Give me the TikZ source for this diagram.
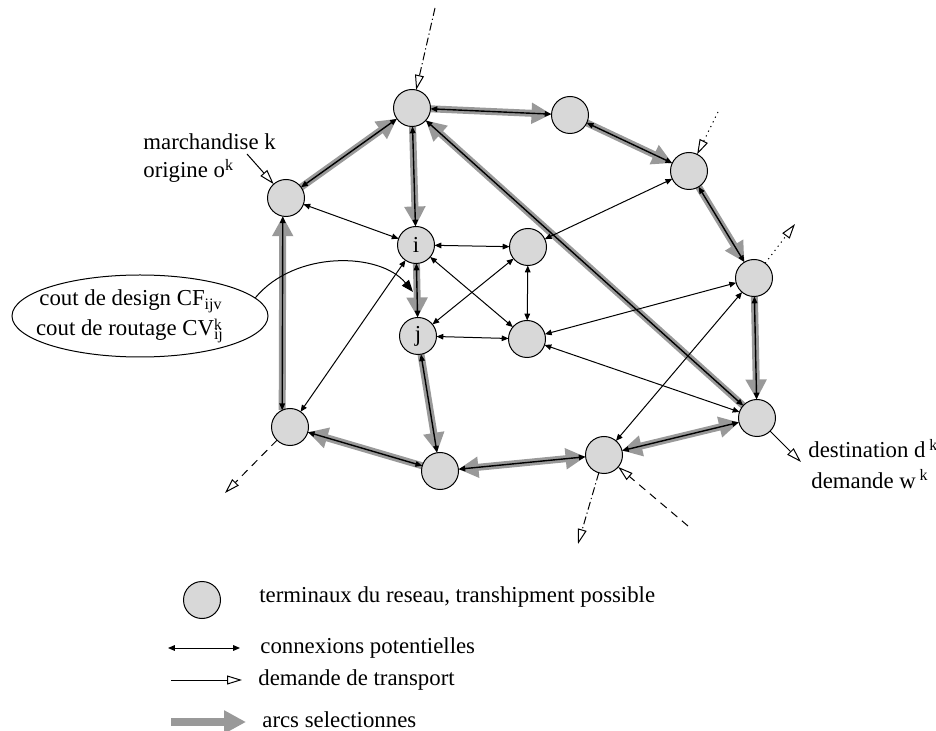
\documentclass[tikz,border=0pt]{standalone}
\usepackage{fontspec}
\setmainfont{Liberation Serif}
\usetikzlibrary{arrows.meta,shapes.geometric,backgrounds}
\definecolor{termfill}{RGB}{216,216,216}
\definecolor{selgray}{RGB}{153,153,153}
\begin{document}
\begin{tikzpicture}[x=0.5pt,y=-0.5pt,
  font=\fontsize{11.4}{13.7}\selectfont,
  term/.style={circle,draw,line width=0.5pt,fill=termfill,minimum size=18.5pt,inner sep=0pt,outer sep=0pt},
  conn/.style={line width=0.5pt,{Triangle[length=3.4pt,width=2.8pt]}-{Triangle[length=3.4pt,width=2.8pt]}},
  selblack/.style={line width=0.7pt,{Triangle[length=3.4pt,width=2.8pt]}-{Triangle[length=3.4pt,width=2.8pt]}},
  sel/.style={draw=selgray,line width=3.5pt,-{Triangle[length=10pt,width=10pt]}},
  selboth/.style={draw=selgray,line width=3.5pt,{Triangle[length=10pt,width=10pt]}-{Triangle[length=10pt,width=10pt]}},
  dem/.style={line width=0.5pt,-{Triangle[open,length=7.5pt,width=4.5pt]}},
  dmddot/.style={dash pattern=on 4pt off 1.5pt on 0.6pt off 1.5pt},
  dmdots/.style={dash pattern=on 0.6pt off 2pt},
  dmdash/.style={dash pattern=on 4pt off 3pt},
  lbl/.style={inner sep=0pt,anchor=base west}
]
\useasboundingbox (0,0) rectangle (936,731);

% terminals
\node[term] (A) at (412,108) {};
\node[term] (B) at (570,115) {};
\node[term] (C) at (689,171) {};
\node[term] (D) at (754,278) {};
\node[term] (E) at (757,418) {};
\node[term] (F) at (604,455) {};
\node[term] (G) at (440,471) {};
\node[term] (H) at (290,427) {};
\node[term] (O) at (286,198) {};
\node[term] (i) at (416,245) {i};
\node[term] (j) at (418,336) {j};
\node[term] (M1) at (528,247) {};
\node[term] (M2) at (527,339) {};

% demand end points
\coordinate (ta) at (435,8);
\coordinate (to) at (247,154);
\coordinate (tc) at (718,112);
\coordinate (td) at (795,224);
\coordinate (te) at (801,462);
\coordinate (tf1) at (578,544);
\coordinate (tf2) at (688,526);
\coordinate (th) at (225,493);

\begin{pgfonlayer}{background}
% selected arcs (gray)
\draw[sel] (O) -- (A);
\draw[sel] (A) -- (B);
\draw[sel] (A) -- (i);
\draw[sel] (E) -- (A);
\draw[sel] (B) -- (C);
\draw[sel] (C) -- (D);
\draw[sel] (D) -- (E);
\draw[selboth] (E) -- (F);
\draw[selboth] (F) -- (G);
\draw[sel] (G) -- (H);
\draw[sel] (H.115) -- (O.-100);
\draw[sel] (i) -- (j);
\draw[sel] (j) -- (G);
% black lines on selected arcs
\draw[selblack] (O) -- (A);
\draw[selblack] (A) -- (B);
\draw[selblack] (A) -- (i);
\draw[selblack] (E) -- (A);
\draw[selblack] (B) -- (C);
\draw[selblack] (C) -- (D);
\draw[selblack] (D) -- (E);
\draw[selblack] (E) -- (F);
\draw[selblack] (F) -- (G);
\draw[selblack] (G) -- (H);
\draw[selblack] (H.115) -- (O.-100);
\draw[selblack] (i) -- (j);
\draw[selblack] (j) -- (G);
% potential connections
\draw[conn] (O) -- (i);
\draw[conn] (i) -- (M1);
\draw[conn] (i) -- (M2);
\draw[conn] (j) -- (M1);
\draw[conn] (j) -- (M2);
\draw[conn] (M1) -- (M2);
\draw[conn] (M1) -- (C);
\draw[conn] (M2) -- (D);
\draw[conn] (M2) -- (E);
\draw[conn] (D) -- (F);
\draw[conn] (i) -- (H);
\end{pgfonlayer}

% transport demands
\draw[dem,dmddot] (ta) -- (A);
\draw[dem] (to) -- (O);
\draw[dem,dmdots] (tc) -- (C);
\draw[dem,dmdots] (D) -- (td);
\draw[dem] (E) -- (te);
\draw[dem,dmddot] (F) -- (tf1);
\draw[dem,dmdash] (tf2) -- (F);
\draw[dem,dmdash] (H) -- (th);

% labels
\node[lbl] (lmk) at (143,150) {marchandise k};
\node[lbl] (lor) at (143,178) {origine o\textsuperscript{k}};
\node[lbl] (ldest) at (808,458) {destination d\,\textsuperscript{k}};
\node[lbl] (ldem) at (811,488) {demande w\,\textsuperscript{k}};

% cost ellipse
\node[ellipse,draw,line width=0.5pt,minimum width=128pt,minimum height=41pt,inner sep=0pt] (cost) at (140,316) {};
\node[inner sep=0pt,anchor=base] (c1) at (131,306) {cout de design CF\textsubscript{ijv}};
\node[inner sep=0pt,anchor=base] (c2) at (130,336) {cout de routage CV\rlap{\raisebox{0.27em}{\fontsize{7.5}{8}\selectfont k}}\textsubscript{ij}};
\coordinate (ctip) at (413,292);
\draw[line width=0.5pt,-{Triangle[length=6pt,width=4.5pt]}] (cost.9) .. controls (295,250) and (380,252) .. (ctip);

% legend
\node[term] (lg) at (202,600) {};
\node[lbl] (lt1) at (259,602) {terminaux du reseau, transhipment possible};
\coordinate (l2a) at (168,648);
\coordinate (l2b) at (240,648);
\draw[conn] (l2a) -- (l2b);
\node[lbl] (lt2) at (260,653) {connexions potentielles};
\coordinate (l3a) at (171,680);
\coordinate (l3b) at (242,680);
\draw[dem] (l3a) -- (l3b);
\node[lbl] (lt3) at (258,685) {demande de transport};
\coordinate (l4a) at (171,722);
\coordinate (l4b) at (246,722);
\draw[draw=selgray,line width=4pt,-{Triangle[length=11pt,width=11pt]}] (l4a) -- (l4b);
\node[lbl] (lt4) at (262,727) {arcs selectionnes};
\end{tikzpicture}
\end{document}
